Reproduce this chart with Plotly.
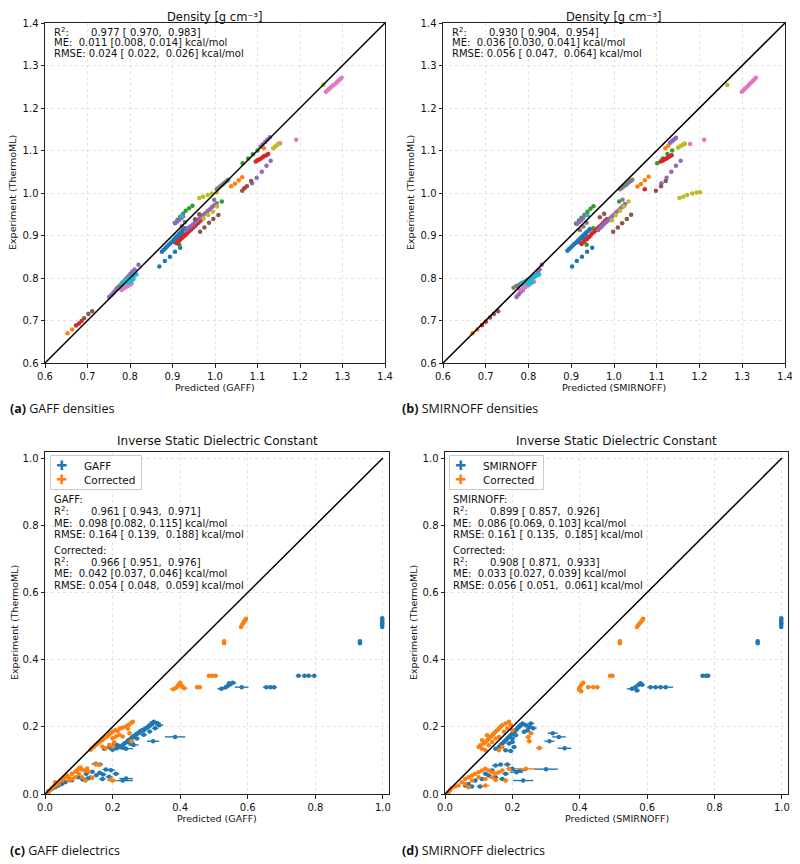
import plotly.graph_objects as go

# page body has an 8px margin, so the figure is drawn 8px in from the window edge
OFF = 8
FW, FH = 800 - OFF, 864 - OFF
FONT = "DejaVu Sans"
CAP_FONT = "Open Sans"
TAB = {
    "blue": "#1f77b4", "orange": "#ff7f0e", "green": "#2ca02c", "red": "#d62728",
    "purple": "#9467bd", "brown": "#8c564b", "pink": "#e377c2", "gray": "#7f7f7f",
    "olive": "#bcbd22", "cyan": "#17becf",
}

# ---- density, GAFF (predicted, experiment) ----
gaff_blue = [(0.869, 0.827), (0.882, 0.840), (0.894, 0.850), (0.906, 0.862), (0.918, 0.871),
             (0.875, 0.862), (0.879, 0.866), (0.883, 0.870), (0.887, 0.874), (0.891, 0.878), (0.895, 0.882),
             (0.899, 0.886), (0.903, 0.890), (0.907, 0.895), (0.911, 0.899), (0.915, 0.903), (0.919, 0.907),
             (0.923, 0.911), (0.927, 0.915), (0.929, 0.917), (0.905, 0.884), (0.912, 0.892), (0.918, 0.899),
             (0.924, 0.905), (0.785, 0.790), (0.792, 0.795), (0.800, 0.800), (0.806, 0.803)]
gaff_orange = [(0.653, 0.670), (0.664, 0.679), (1.038, 1.016), (1.047, 1.022), (1.056, 1.030), (1.064, 1.037),
               (1.115, 1.105), (1.150, 1.116)]
gaff_green = [(0.906, 0.930), (0.912, 0.937), (0.918, 0.944), (0.925, 0.951), (0.931, 0.958), (0.939, 0.964),
              (0.947, 0.970), (1.065, 1.070), (1.078, 1.081), (1.089, 1.091), (1.100, 1.100), (1.016, 0.980),
              (0.916, 0.878), (0.935, 0.912), (0.940, 0.917)]
gaff_red = [(0.910, 0.882), (0.914, 0.886), (0.918, 0.890), (0.922, 0.894), (0.927, 0.898), (0.931, 0.902),
            (0.935, 0.906), (0.939, 0.910), (0.944, 0.914), (0.948, 0.918), (0.952, 0.922), (0.956, 0.926),
            (0.961, 0.930), (0.965, 0.934), (0.969, 0.938), (0.673, 0.688), (0.680, 0.693), (0.686, 0.699),
            (1.096, 1.074), (1.100, 1.077), (1.104, 1.079), (1.108, 1.081), (1.112, 1.084), (1.116, 1.087),
            (1.121, 1.089), (1.125, 1.092), (1.069, 1.011)]
gaff_purple = [(0.751, 0.755), (0.756, 0.760), (0.761, 0.766), (0.766, 0.771), (0.771, 0.777), (0.776, 0.782),
               (0.781, 0.788), (0.786, 0.793), (0.791, 0.799), (0.796, 0.804), (0.801, 0.810), (0.806, 0.815),
               (0.811, 0.820), (0.820, 0.831), (0.906, 0.929), (0.911, 0.933), (0.916, 0.937), (0.921, 0.941),
               (0.925, 0.945), (0.933, 0.913), (0.938, 0.918), (0.943, 0.922), (0.948, 0.926), (0.953, 0.931),
               (0.958, 0.935), (0.963, 0.940), (0.968, 0.944), (0.973, 0.949), (0.978, 0.953), (0.983, 0.958),
               (0.988, 0.962), (0.993, 0.967), (0.998, 0.971), (1.004, 0.976), (1.087, 1.023), (1.098, 1.036),
               (1.110, 1.050), (1.121, 1.064), (1.131, 1.076), (1.107, 1.109), (1.112, 1.114), (1.118, 1.120),
               (1.123, 1.125), (1.129, 1.131)]
gaff_brown = [(0.692, 0.705), (0.702, 0.715), (0.711, 0.722), (0.965, 0.909), (0.975, 0.919), (0.986, 0.930),
              (0.996, 0.939), (1.008, 0.948), (0.953, 0.938), (0.963, 0.950), (1.064, 1.005), (1.075, 1.016),
              (1.085, 1.028)]
gaff_pink = [(0.780, 0.772), (0.785, 0.775), (0.790, 0.778), (0.795, 0.781), (0.800, 0.784), (0.804, 0.787),
             (1.261, 1.238), (1.265, 1.242), (1.269, 1.245), (1.273, 1.249), (1.277, 1.253), (1.282, 1.256),
             (1.286, 1.260), (1.290, 1.264), (1.294, 1.267), (1.298, 1.271), (1.191, 1.125), (1.153, 1.117)]
gaff_gray = [(0.769, 0.776), (0.774, 0.780), (0.780, 0.784), (0.785, 0.787), (0.791, 0.791), (0.796, 0.795),
             (0.922, 0.922), (0.929, 0.932), (0.998, 0.984), (1.004, 1.009), (1.008, 1.012), (1.012, 1.015),
             (1.016, 1.018), (1.020, 1.022), (1.024, 1.025), (1.028, 1.028), (1.031, 1.031)]
gaff_olive = [(0.963, 0.988), (0.972, 0.991), (0.983, 0.995), (0.993, 0.999), (1.004, 1.001), (0.973, 0.940),
              (0.984, 0.948), (0.995, 0.956), (1.005, 0.968), (1.137, 1.105), (1.141, 1.109), (1.145, 1.112),
              (1.149, 1.115), (1.255, 1.255)]
gaff_cyan = [(0.780, 0.787), (0.784, 0.790), (0.788, 0.793), (0.792, 0.796), (0.796, 0.799), (0.800, 0.802),
             (0.805, 0.804), (0.810, 0.806), (0.815, 0.808), (0.795, 0.788), (0.802, 0.792), (0.808, 0.797),
             (0.921, 0.945)]

# ---- density, SMIRNOFF ----
smirnoff_blue = [(0.902, 0.827), (0.913, 0.840), (0.925, 0.850), (0.937, 0.862), (0.949, 0.871),
                 (0.891, 0.864), (0.895, 0.868), (0.899, 0.872), (0.903, 0.876), (0.907, 0.880), (0.911, 0.883),
                 (0.915, 0.887), (0.919, 0.891), (0.923, 0.895), (0.927, 0.899), (0.931, 0.903), (0.935, 0.907),
                 (0.940, 0.911), (0.944, 0.915), (0.920, 0.884), (0.928, 0.893), (0.935, 0.900),
                 (0.775, 0.780), (0.782, 0.785), (0.790, 0.790), (0.798, 0.795)]
smirnoff_orange = [(0.669, 0.670), (0.680, 0.679), (1.055, 1.015), (1.063, 1.021), (1.072, 1.030), (1.081, 1.038),
                   (1.120, 1.105), (1.127, 1.111), (1.165, 1.116)]
smirnoff_green = [(0.911, 0.928), (0.918, 0.935), (0.924, 0.942), (0.931, 0.949), (0.938, 0.956), (0.945, 0.963),
                  (0.952, 0.969), (1.101, 1.070), (1.114, 1.081), (1.125, 1.092), (1.136, 1.100), (1.012, 0.980),
                  (0.936, 0.878), (0.952, 0.917)]
smirnoff_red = [(0.924, 0.880), (0.928, 0.884), (0.932, 0.888), (0.937, 0.892), (0.941, 0.896), (0.945, 0.900),
                (0.949, 0.905), (0.954, 0.909), (0.958, 0.913), (0.962, 0.917), (0.966, 0.921), (0.971, 0.925),
                (0.975, 0.930), (0.979, 0.934), (0.983, 0.938), (0.691, 0.689), (0.700, 0.697),
                (1.109, 1.074), (1.113, 1.076), (1.117, 1.078), (1.120, 1.080), (1.124, 1.082), (1.128, 1.085),
                (1.131, 1.087), (1.135, 1.089), (1.072, 1.009)]
smirnoff_purple = [(0.772, 0.755), (0.777, 0.761), (0.782, 0.767), (0.787, 0.772), (0.792, 0.778), (0.797, 0.784),
                   (0.802, 0.790), (0.807, 0.796), (0.812, 0.801), (0.817, 0.807), (0.822, 0.813), (0.826, 0.820),
                   (0.831, 0.831), (0.913, 0.927), (0.918, 0.931), (0.923, 0.936), (0.928, 0.941), (0.934, 0.948),
                   (0.963, 0.913), (0.968, 0.918), (0.972, 0.922), (0.977, 0.927), (0.981, 0.931), (0.986, 0.935),
                   (0.990, 0.940), (0.995, 0.944), (0.999, 0.948), (1.004, 0.953), (1.008, 0.957), (1.013, 0.961),
                   (1.017, 0.966), (1.022, 0.970), (1.026, 0.974), (1.111, 1.023), (1.123, 1.036), (1.134, 1.050),
                   (1.145, 1.064), (1.156, 1.076), (1.131, 1.118), (1.135, 1.121), (1.138, 1.124), (1.142, 1.127),
                   (1.145, 1.130)]
smirnoff_brown = [(0.710, 0.707), (0.719, 0.715), (0.729, 0.722), (0.998, 0.909), (1.009, 0.919), (1.019, 0.929),
                  (1.030, 0.939), (1.040, 0.949), (0.967, 0.943), (0.977, 0.951), (1.098, 1.005), (1.110, 1.016),
                  (1.121, 1.028)]
smirnoff_pink = [(0.780, 0.772), (0.787, 0.776), (0.793, 0.780), (0.800, 0.783), (0.806, 0.787), (0.813, 0.791),
                 (1.299, 1.238), (1.303, 1.242), (1.306, 1.245), (1.310, 1.249), (1.314, 1.253), (1.317, 1.256),
                 (1.321, 1.260), (1.325, 1.264), (1.328, 1.267), (1.332, 1.271), (1.211, 1.125), (1.178, 1.115)]
smirnoff_gray = [(0.765, 0.777), (0.771, 0.781), (0.778, 0.784), (0.784, 0.788), (0.791, 0.791), (0.797, 0.795),
                 (0.920, 0.913), (0.928, 0.921), (0.936, 0.930), (1.020, 0.984), (1.014, 1.009), (1.018, 1.012),
                 (1.022, 1.015), (1.027, 1.018), (1.031, 1.022), (1.035, 1.025), (1.039, 1.028), (1.043, 1.031)]
smirnoff_olive = [(1.153, 0.988), (1.162, 0.991), (1.171, 0.995), (1.183, 0.999), (1.193, 1.001), (1.201, 1.002),
                  (0.995, 0.936), (1.004, 0.948), (1.014, 0.958), (1.023, 0.968), (1.034, 0.980),
                  (1.150, 1.107), (1.155, 1.110), (1.160, 1.113), (1.165, 1.116), (1.265, 1.254)]
smirnoff_cyan = [(0.785, 0.786), (0.790, 0.790), (0.795, 0.793), (0.800, 0.796), (0.805, 0.799), (0.810, 0.802),
                 (0.815, 0.804), (0.820, 0.806), (0.825, 0.808), (0.800, 0.785), (0.808, 0.790), (0.938, 0.948)]

# ---- inverse dielectric: (predicted, experiment, predicted error) ----
DIEL_Y_ERR = 0.004
gaff_dielectric = [
    (0.998, 0.497, 0.003), (0.998, 0.503, 0.003), (0.998, 0.508, 0.003), (0.998, 0.513, 0.003),
    (0.998, 0.518, 0.003), (0.998, 0.523, 0.003), (0.932, 0.449, 0.004), (0.932, 0.455, 0.004),
    (0.750, 0.352, 0.008), (0.768, 0.352, 0.008), (0.780, 0.352, 0.010), (0.797, 0.352, 0.006),
    (0.655, 0.318, 0.010), (0.667, 0.318, 0.008), (0.678, 0.318, 0.008), (0.582, 0.318, 0.020),
    (0.522, 0.313, 0.012), (0.535, 0.318, 0.008), (0.542, 0.323, 0.010), (0.549, 0.327, 0.008),
    (0.556, 0.331, 0.010), (0.545, 0.330, 0.006),
    (0.200, 0.132, 0.010), (0.212, 0.136, 0.008), (0.222, 0.141, 0.010), (0.230, 0.146, 0.008),
    (0.236, 0.151, 0.008), (0.242, 0.155, 0.008), (0.247, 0.160, 0.008), (0.252, 0.163, 0.010),
    (0.257, 0.168, 0.008), (0.262, 0.171, 0.008), (0.267, 0.175, 0.010), (0.272, 0.179, 0.008),
    (0.277, 0.182, 0.010), (0.282, 0.186, 0.008), (0.287, 0.190, 0.010), (0.292, 0.189, 0.008),
    (0.297, 0.195, 0.010), (0.302, 0.198, 0.010), (0.307, 0.201, 0.008), (0.312, 0.205, 0.010),
    (0.318, 0.210, 0.012), (0.322, 0.215, 0.012), (0.332, 0.211, 0.010), (0.338, 0.205, 0.012),
    (0.326, 0.196, 0.010), (0.310, 0.186, 0.008), (0.292, 0.176, 0.010), (0.272, 0.165, 0.008),
    (0.255, 0.150, 0.010), (0.232, 0.138, 0.010), (0.215, 0.145, 0.008), (0.205, 0.150, 0.008),
    (0.190, 0.140, 0.008), (0.175, 0.135, 0.006), (0.320, 0.157, 0.018), (0.385, 0.170, 0.030),
    (0.240, 0.135, 0.020), (0.262, 0.146, 0.015), (0.250, 0.155, 0.015),
    (0.150, 0.090, 0.012), (0.162, 0.088, 0.010), (0.180, 0.073, 0.010), (0.195, 0.071, 0.012),
    (0.122, 0.060, 0.008), (0.140, 0.066, 0.008), (0.152, 0.056, 0.008), (0.162, 0.063, 0.008),
    (0.172, 0.058, 0.010), (0.135, 0.049, 0.008), (0.112, 0.043, 0.008), (0.126, 0.046, 0.008),
    (0.190, 0.051, 0.010), (0.230, 0.040, 0.030), (0.240, 0.046, 0.020), (0.100, 0.050, 0.006),
    (0.080, 0.041, 0.006), (0.060, 0.035, 0.005), (0.050, 0.030, 0.005), (0.040, 0.025, 0.005),
    (0.030, 0.020, 0.004), (0.020, 0.015, 0.004), (0.010, 0.008, 0.004), (0.170, 0.045, 0.010),
    (0.210, 0.060, 0.010)]
gaff_corrected = [
    (0.580, 0.497, 0.004), (0.583, 0.503, 0.004), (0.586, 0.508, 0.004), (0.589, 0.513, 0.004),
    (0.592, 0.518, 0.004), (0.595, 0.522, 0.004), (0.530, 0.449, 0.004), (0.530, 0.455, 0.004),
    (0.485, 0.352, 0.006), (0.495, 0.352, 0.006), (0.505, 0.352, 0.006), (0.450, 0.318, 0.006),
    (0.458, 0.318, 0.006), (0.380, 0.312, 0.010), (0.390, 0.318, 0.008), (0.395, 0.325, 0.006),
    (0.400, 0.331, 0.006), (0.405, 0.322, 0.008), (0.412, 0.315, 0.010),
    (0.135, 0.132, 0.006), (0.140, 0.138, 0.006), (0.145, 0.141, 0.006), (0.150, 0.146, 0.006),
    (0.155, 0.150, 0.006), (0.160, 0.153, 0.006), (0.165, 0.158, 0.006), (0.170, 0.161, 0.006),
    (0.175, 0.166, 0.006), (0.180, 0.170, 0.006), (0.185, 0.173, 0.006), (0.190, 0.178, 0.006),
    (0.195, 0.181, 0.006), (0.200, 0.185, 0.006), (0.208, 0.190, 0.006), (0.215, 0.188, 0.006),
    (0.222, 0.195, 0.006), (0.230, 0.198, 0.006), (0.240, 0.201, 0.006), (0.248, 0.206, 0.006),
    (0.255, 0.211, 0.006), (0.260, 0.215, 0.006), (0.200, 0.166, 0.006), (0.210, 0.171, 0.006),
    (0.220, 0.176, 0.006), (0.170, 0.141, 0.006), (0.180, 0.136, 0.006), (0.190, 0.146, 0.006),
    (0.200, 0.141, 0.006), (0.205, 0.153, 0.006), (0.230, 0.171, 0.006), (0.250, 0.181, 0.006),
    (0.256, 0.157, 0.008), (0.245, 0.195, 0.006),
    (0.010, 0.005, 0.004), (0.015, 0.012, 0.004), (0.020, 0.018, 0.004), (0.025, 0.022, 0.004),
    (0.030, 0.025, 0.004), (0.040, 0.030, 0.004), (0.050, 0.040, 0.004), (0.055, 0.045, 0.004),
    (0.060, 0.050, 0.004), (0.065, 0.055, 0.004), (0.070, 0.050, 0.004), (0.080, 0.060, 0.005),
    (0.090, 0.066, 0.005), (0.095, 0.071, 0.005), (0.100, 0.076, 0.005), (0.105, 0.079, 0.005),
    (0.110, 0.072, 0.005), (0.120, 0.070, 0.005), (0.125, 0.076, 0.005), (0.130, 0.066, 0.005),
    (0.100, 0.060, 0.005), (0.090, 0.050, 0.005), (0.080, 0.045, 0.005), (0.070, 0.040, 0.005),
    (0.110, 0.050, 0.005), (0.150, 0.088, 0.008), (0.160, 0.086, 0.008), (0.200, 0.040, 0.015),
    (0.195, 0.043, 0.010), (0.140, 0.048, 0.006), (0.120, 0.040, 0.006), (0.045, 0.040, 0.004),
    (0.030, 0.035, 0.004)]
smirnoff_dielectric = [
    (0.998, 0.497, 0.003), (0.998, 0.503, 0.003), (0.998, 0.508, 0.003), (0.998, 0.513, 0.003),
    (0.998, 0.518, 0.003), (0.998, 0.523, 0.003), (0.928, 0.449, 0.004), (0.928, 0.455, 0.004),
    (0.765, 0.352, 0.008), (0.775, 0.352, 0.008), (0.781, 0.352, 0.006), (0.610, 0.318, 0.010),
    (0.625, 0.318, 0.010), (0.640, 0.318, 0.010), (0.655, 0.318, 0.022), (0.555, 0.313, 0.015),
    (0.565, 0.318, 0.008), (0.575, 0.325, 0.010), (0.580, 0.330, 0.008), (0.585, 0.325, 0.008),
    (0.570, 0.308, 0.008),
    (0.150, 0.135, 0.006), (0.160, 0.140, 0.006), (0.165, 0.145, 0.006), (0.170, 0.150, 0.008),
    (0.175, 0.155, 0.006), (0.180, 0.160, 0.008), (0.185, 0.165, 0.006), (0.190, 0.170, 0.008),
    (0.195, 0.175, 0.006), (0.200, 0.180, 0.008), (0.205, 0.185, 0.008), (0.210, 0.190, 0.008),
    (0.215, 0.195, 0.008), (0.220, 0.200, 0.010), (0.225, 0.205, 0.010), (0.230, 0.210, 0.010),
    (0.240, 0.205, 0.010), (0.250, 0.200, 0.012), (0.255, 0.210, 0.010), (0.245, 0.190, 0.008),
    (0.235, 0.185, 0.008), (0.210, 0.175, 0.008), (0.200, 0.165, 0.008), (0.190, 0.150, 0.008),
    (0.180, 0.130, 0.008), (0.195, 0.128, 0.008), (0.205, 0.140, 0.008), (0.200, 0.155, 0.008),
    (0.320, 0.181, 0.015), (0.338, 0.170, 0.020), (0.310, 0.157, 0.015), (0.355, 0.136, 0.020),
    (0.262, 0.196, 0.010),
    (0.150, 0.085, 0.010), (0.165, 0.088, 0.008), (0.185, 0.088, 0.010), (0.200, 0.075, 0.010),
    (0.300, 0.074, 0.035), (0.222, 0.070, 0.020), (0.212, 0.065, 0.020), (0.232, 0.040, 0.030),
    (0.170, 0.045, 0.010), (0.150, 0.050, 0.008), (0.130, 0.055, 0.008), (0.110, 0.045, 0.008),
    (0.090, 0.040, 0.006), (0.070, 0.030, 0.006), (0.060, 0.025, 0.005), (0.180, 0.060, 0.010),
    (0.140, 0.070, 0.008), (0.120, 0.060, 0.008), (0.104, 0.022, 0.010), (0.080, 0.022, 0.006)]
smirnoff_corrected = [
    (0.570, 0.497, 0.004), (0.574, 0.503, 0.004), (0.578, 0.508, 0.004), (0.582, 0.513, 0.004),
    (0.586, 0.518, 0.004), (0.588, 0.522, 0.004), (0.519, 0.449, 0.004), (0.519, 0.455, 0.004),
    (0.490, 0.352, 0.006), (0.497, 0.352, 0.006), (0.425, 0.318, 0.006), (0.440, 0.318, 0.010),
    (0.452, 0.318, 0.006), (0.398, 0.310, 0.006), (0.400, 0.318, 0.006), (0.405, 0.325, 0.006),
    (0.410, 0.331, 0.006), (0.404, 0.306, 0.006),
    (0.100, 0.140, 0.006), (0.105, 0.145, 0.006), (0.110, 0.135, 0.006), (0.115, 0.150, 0.006),
    (0.120, 0.155, 0.006), (0.125, 0.160, 0.006), (0.130, 0.165, 0.006), (0.135, 0.170, 0.006),
    (0.140, 0.175, 0.006), (0.145, 0.180, 0.006), (0.150, 0.185, 0.006), (0.155, 0.190, 0.006),
    (0.160, 0.195, 0.006), (0.165, 0.200, 0.006), (0.170, 0.205, 0.006), (0.180, 0.210, 0.006),
    (0.190, 0.215, 0.006), (0.195, 0.205, 0.006), (0.185, 0.195, 0.006), (0.175, 0.185, 0.006),
    (0.130, 0.145, 0.006), (0.140, 0.155, 0.006), (0.150, 0.165, 0.006), (0.160, 0.170, 0.006),
    (0.120, 0.130, 0.006), (0.170, 0.140, 0.006), (0.160, 0.130, 0.006), (0.200, 0.190, 0.006),
    (0.110, 0.160, 0.006), (0.125, 0.175, 0.006), (0.255, 0.181, 0.008), (0.247, 0.170, 0.008),
    (0.250, 0.157, 0.008), (0.280, 0.137, 0.010),
    (0.010, 0.005, 0.004), (0.015, 0.012, 0.004), (0.020, 0.018, 0.004), (0.030, 0.022, 0.004),
    (0.040, 0.025, 0.004), (0.050, 0.035, 0.004), (0.060, 0.045, 0.005), (0.070, 0.050, 0.005),
    (0.080, 0.055, 0.005), (0.090, 0.060, 0.005), (0.100, 0.065, 0.005), (0.110, 0.070, 0.005),
    (0.120, 0.075, 0.006), (0.130, 0.070, 0.006), (0.140, 0.065, 0.006), (0.150, 0.060, 0.006),
    (0.160, 0.065, 0.006), (0.170, 0.070, 0.006), (0.190, 0.075, 0.008), (0.100, 0.050, 0.005),
    (0.120, 0.045, 0.005), (0.140, 0.050, 0.006), (0.080, 0.040, 0.005), (0.060, 0.030, 0.005),
    (0.240, 0.075, 0.030), (0.180, 0.040, 0.008), (0.120, 0.025, 0.012), (0.070, 0.020, 0.005),
    (0.150, 0.042, 0.008)]

NB = "\u00a0"
gaff_density_stats = [f"R<sup>2</sup>:{NB * 7}0.977 [{NB}0.970,{NB * 2}0.983]",
                      f"ME:{NB * 2}0.011 [0.008, 0.014] kcal/mol",
                      f"RMSE: 0.024 [{NB}0.022,{NB * 2}0.026] kcal/mol"]
smirnoff_density_stats = [f"R<sup>2</sup>:{NB * 7}0.930 [{NB}0.904,{NB * 2}0.954]",
                          f"ME:{NB * 2}0.036 [0.030, 0.041] kcal/mol",
                          f"RMSE: 0.056 [{NB}0.047,{NB * 2}0.064] kcal/mol"]
gaff_diel_stats = ["GAFF:", f"R<sup>2</sup>:{NB * 7}0.961 [{NB}0.943,{NB * 2}0.971]",
                   f"ME:{NB * 2}0.098 [0.082, 0.115] kcal/mol",
                   f"RMSE: 0.164 [{NB}0.139,{NB * 2}0.188] kcal/mol",
                   "Corrected:", f"R<sup>2</sup>:{NB * 7}0.966 [{NB}0.951,{NB * 2}0.976]",
                   f"ME:{NB * 2}0.042 [0.037, 0.046] kcal/mol",
                   f"RMSE: 0.054 [{NB}0.048,{NB * 2}0.059] kcal/mol"]
smirnoff_diel_stats = ["SMIRNOFF:", f"R<sup>2</sup>:{NB * 7}0.899 [{NB}0.857,{NB * 2}0.926]",
                       f"ME:{NB * 2}0.086 [0.069, 0.103] kcal/mol",
                       f"RMSE: 0.161 [{NB}0.135,{NB * 2}0.185] kcal/mol",
                       "Corrected:", f"R<sup>2</sup>:{NB * 7}0.908 [{NB}0.871,{NB * 2}0.933]",
                       f"ME:{NB * 2}0.033 [0.027, 0.039] kcal/mol",
                       f"RMSE: 0.056 [{NB}0.051,{NB * 2}0.061] kcal/mol"]

DENSITY_RANGE = [0.6, 1.4]
DIEL_RANGE = [0.0, 1.018]


def pxx(p):
    # window pixel -> paper fraction
    return (p - OFF) / FW


def pxy(p):
    return 1 - (p - OFF) / FH


fig = go.Figure()

density_panels = [
    ("x", "y", [gaff_blue, gaff_orange, gaff_green, gaff_red, gaff_purple, gaff_brown, gaff_pink, gaff_gray,
                gaff_olive, gaff_cyan]),
    ("x2", "y2", [smirnoff_blue, smirnoff_orange, smirnoff_green, smirnoff_red, smirnoff_purple, smirnoff_brown,
                  smirnoff_pink, smirnoff_gray, smirnoff_olive, smirnoff_cyan]),
]
colour_order = ["blue", "orange", "green", "red", "purple", "brown", "pink", "gray", "olive", "cyan"]
for xa, ya, groups in density_panels:
    for name, pts in zip(colour_order, groups):
        fig.add_trace(go.Scatter(
            x=[p[0] for p in pts], y=[p[1] for p in pts], mode="markers", xaxis=xa, yaxis=ya,
            marker=dict(size=4.5, color=TAB[name]), showlegend=False, hoverinfo="x+y"))

diel_panels = [
    ("x3", "y3", "GAFF", gaff_dielectric, gaff_corrected),
    ("x4", "y4", "SMIRNOFF", smirnoff_dielectric, smirnoff_corrected),
]
for xa, ya, ff, raw, corr in diel_panels:
    for label, pts, col in [(ff, raw, TAB["blue"]), ("Corrected", corr, TAB["orange"])]:
        fig.add_trace(go.Scatter(
            x=[p[0] for p in pts], y=[p[1] for p in pts], mode="markers", xaxis=xa, yaxis=ya, name=label,
            marker=dict(size=4.5, color=col),
            error_x=dict(type="data", array=[p[2] for p in pts], color=col, thickness=1.4, width=0),
            error_y=dict(type="data", array=[DIEL_Y_ERR] * len(pts), color=col, thickness=1.4, width=0),
            showlegend=False))


def axis_style(domain, rng, dtick, anchor):
    return dict(domain=domain, range=rng, dtick=dtick, anchor=anchor, showline=True, mirror=True,
                linecolor="#222", linewidth=1, ticks="outside", ticklen=3.5, tickcolor="#222",
                showgrid=True, gridcolor="#e2e2e2", griddash="dot", gridwidth=1, zeroline=False,
                tickformat=".1f", tickfont=dict(family=FONT, size=10, color="#111"), automargin=False)


top_y = [pxy(363), pxy(23)]
bot_y = [pxy(794), pxy(452)]
fig.update_layout(
    xaxis=axis_style([pxx(45), pxx(385)], DENSITY_RANGE, 0.1, "y"),
    yaxis=axis_style(top_y, DENSITY_RANGE, 0.1, "x"),
    xaxis2=axis_style([pxx(443), pxx(785)], DENSITY_RANGE, 0.1, "y2"),
    yaxis2=axis_style(top_y, DENSITY_RANGE, 0.1, "x2"),
    xaxis3=axis_style([pxx(45), pxx(389)], DIEL_RANGE, 0.2, "y3"),
    yaxis3=axis_style(bot_y, DIEL_RANGE, 0.2, "x3"),
    xaxis4=axis_style([pxx(445), pxx(788)], DIEL_RANGE, 0.2, "y4"),
    yaxis4=axis_style(bot_y, DIEL_RANGE, 0.2, "x4"),
)

# identity lines
shapes = []
for xa, ya, lo, hi in [("x", "y", 0.6, 1.4), ("x2", "y2", 0.6, 1.4), ("x3", "y3", 0.0, 1.0), ("x4", "y4", 0.0, 1.0)]:
    shapes.append(dict(type="line", xref=xa, yref=ya, x0=lo, y0=lo, x1=hi, y1=hi,
                       line=dict(color="black", width=1.5), layer="above"))

annotations = []


def text(x, y, s, size=10, family=FONT, xanchor="left", angle=0, yanchor="middle", **kw):
    annotations.append(dict(x=pxx(x), y=pxy(y), xref="paper", yref="paper", text=s, showarrow=False,
                            xanchor=xanchor, yanchor=yanchor, textangle=angle,
                            font=dict(family=family, size=size, color="#111"), **kw))


# density titles sit right under the top edge of the figure
text(215, OFF, "Density [g cm⁻³]", size=11.5, xanchor="center", yanchor="top")
text(614, OFF, "Density [g cm⁻³]", size=11.5, xanchor="center", yanchor="top")
text(217, 441, "Inverse Static Dielectric Constant", size=12, xanchor="center")
text(616, 441, "Inverse Static Dielectric Constant", size=12, xanchor="center")

text(215, 387, "Predicted (GAFF)", size=9.5, xanchor="center")
text(614, 387, "Predicted (SMIRNOFF)", size=9.5, xanchor="center")
text(217, 818, "Predicted (GAFF)", size=9.5, xanchor="center")
text(617, 818, "Predicted (SMIRNOFF)", size=9.5, xanchor="center")
text(13, 193, "Experiment (ThermoML)", size=9.5, xanchor="center", angle=-90)
text(411, 193, "Experiment (ThermoML)", size=9.5, xanchor="center", angle=-90)
text(14, 623, "Experiment (ThermoML)", size=9.5, xanchor="center", angle=-90)
text(413, 623, "Experiment (ThermoML)", size=9.5, xanchor="center", angle=-90)

for i, s in enumerate(gaff_density_stats):
    text(52, 32 + 11 * i, s)
for i, s in enumerate(smirnoff_density_stats):
    text(450, 32 + 11 * i, s)
for rows, x0 in [(gaff_diel_stats, 52), (smirnoff_diel_stats, 451)]:
    ys = [499, 511, 523, 534, 550, 562, 573, 585]
    for s, yy in zip(rows, ys):
        text(x0, yy, s)

# compact legend boxes (matplotlib-style, tighter than plotly's own legend rows)
for x0, ff in [(50, "GAFF"), (449, "SMIRNOFF")]:
    entries = [(ff, TAB["blue"]), ("Corrected", TAB["orange"])]
    body = "<br>".join(f"{NB}<span style='color:{c};font-size:13px'>✚</span>{NB * 5}{lab}{NB}"
                       for lab, c in entries)
    annotations.append(dict(x=pxx(x0), y=pxy(455), xref="paper", yref="paper", text=body, showarrow=False,
                            xanchor="left", yanchor="top", align="left", bgcolor="white",
                            bordercolor="#cccccc", borderwidth=1, borderpad=2,
                            font=dict(family=FONT, size=10.5, color="#111")))

text(OFF, 408, "<b>(a)</b> GAFF densities", size=12.5, family=CAP_FONT)
text(400, 408, "<b>(b)</b> SMIRNOFF densities", size=12.5, family=CAP_FONT)
text(OFF, 850, "<b>(c)</b> GAFF dielectrics", size=12.5, family=CAP_FONT)
text(400, 850, "<b>(d)</b> SMIRNOFF dielectrics", size=12.5, family=CAP_FONT)

fig.update_layout(
    width=FW, height=FH, paper_bgcolor="white", plot_bgcolor="white", showlegend=False,
    margin=dict(l=0, r=0, t=0, b=0), shapes=shapes, annotations=annotations,
)

fig.write_html("out.html")
